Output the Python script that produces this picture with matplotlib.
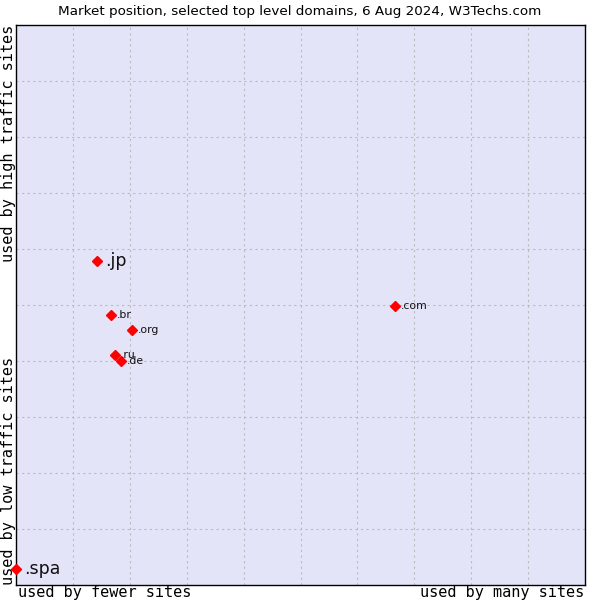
import matplotlib
matplotlib.use('Agg')
import matplotlib.pyplot as plt
import numpy as np

# market position of top level domains (0..10 scale on both axes)
domains = ['.jp', '.br', '.org', '.ru', '.de', '.com', '.spa']
usage = [1.42, 1.67, 2.04, 1.74, 1.85, 6.66, 0.0]
traffic = [5.79, 4.82, 4.55, 4.11, 4.00, 4.98, 0.29]
label_sizes = [12.5, 7.8, 7.8, 7.8, 7.8, 7.8, 12.5]

fig = plt.figure(figsize=(6, 6), dpi=100)
ax = fig.add_axes([16/600, 15/600, 569/600, 560/600])
ax.set_facecolor('#e4e4f8')
ax.set_xlim(0, 10)
ax.set_ylim(0, 10)
ax.set_xticks(np.arange(1, 10))
ax.set_yticks(np.arange(1, 10))
ax.tick_params(length=0, labelbottom=False, labelleft=False)
ax.grid(True, color='#bbbbbb', linestyle=(0, (2, 3)), linewidth=0.8)
for s in ax.spines.values():
    s.set_linewidth(1)

ax.plot(usage, traffic, 'D', color='red', markersize=5.5, clip_on=False, zorder=3)
for name, x, y, fs in zip(domains, usage, traffic, label_sizes):
    ax.annotate(name, (x, y), xytext=(6 if fs > 10 else 4, 0), textcoords='offset points',
                fontsize=fs, va='center', ha='left', color='#111111')

fig.text(0.5, 1 - 12/600, 'Market position, selected top level domains, 6 Aug 2024, W3Techs.com',
         ha='center', va='center', fontsize=9.7)
mono = 'DejaVu Sans Mono'
fig.text(9/600, 1 - 25/600, 'used by high traffic sites', rotation=90, ha='center', va='top',
         fontsize=11, family=mono)
fig.text(9/600, 15/600, 'used by low traffic sites', rotation=90, ha='center', va='bottom',
         fontsize=11, family=mono)
fig.text(18/600, 7/600, 'used by fewer sites', ha='left', va='center', fontsize=11, family=mono)
fig.text(584/600, 7/600, 'used by many sites', ha='right', va='center', fontsize=11, family=mono)

fig.savefig('out.png', dpi=100)
